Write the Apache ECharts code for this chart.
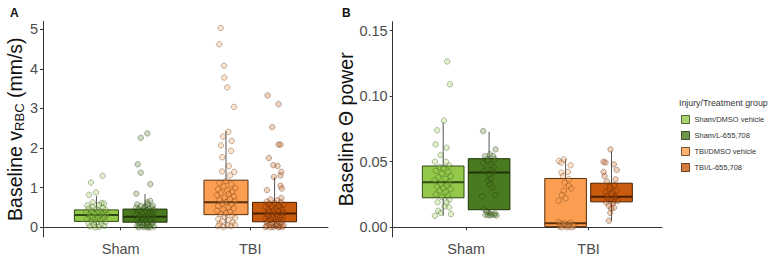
<!DOCTYPE html>
<html>
<head>
<meta charset="utf-8">
<script src="https://cdn.jsdelivr.net/npm/echarts@6/dist/echarts.min.js"></script>
<style>
  html, body { margin: 0; padding: 0; background: #fff; }
  #main { width: 772px; height: 256px; }
</style>
</head>
<body>
<div id="main"></div>
<script>
const categories = ['Sham', 'TBI'];
const groups = ['Sham/DMSO vehicle', 'Sham/L-655,708', 'TBI/DMSO vehicle', 'TBI/L-655,708'];
// where each group sits on the x scale (category 1 / 2, dodged)
const groupPos = [0.8125, 1.1875, 1.8125, 2.1875];
const fills = ['#93c84a', '#4a7a1f', '#fb9e52', '#c95b0e'];
const edges = ['#2f4a12', '#1f3309', '#5a2f0a', '#4a1f02'];

const ticksA = [0, 1, 2, 3, 4, 5];
const ticksB = [0, 0.05, 0.10, 0.15];

// box stats: [low whisker, q1, median, q3, high whisker]
const boxA = [
  [0.00, 0.15, 0.31, 0.44, 0.79],
  [0.00, 0.13, 0.27, 0.46, 0.84],
  [0.00, 0.32, 0.63, 1.19, 2.43],
  [0.00, 0.14, 0.35, 0.63, 1.26]
];
const boxB = [
  [0.0088, 0.0225, 0.0344, 0.0467, 0.0800],
  [0.0096, 0.0134, 0.0417, 0.0523, 0.0728],
  [0.0000, 0.0005, 0.0030, 0.0372, 0.0520],
  [0.0050, 0.0194, 0.0232, 0.0336, 0.0580]
];

// jittered points: [offset from group position, value]
const ptsA_shamDmso = [[-0.042,1.13],[0.048,1.30],[-0.058,0.82],[-0.004,0.88],[-0.029,0.63],[0.04,0.61],[0.058,0.60],
  [-0.07,0.55],[0.02,0.56],[-0.03,0.52],[0.05,0.50],[-0.06,0.47],[0.0,0.46],[0.07,0.44],[-0.04,0.42],[0.03,0.41],
  [-0.08,0.39],[0.01,0.38],[0.06,0.37],[-0.02,0.35],[0.04,0.34],[-0.06,0.33],[0.08,0.32],[-0.01,0.31],[0.03,0.29],
  [-0.05,0.28],[0.06,0.27],[-0.03,0.25],[0.01,0.24],[0.05,0.22],[-0.07,0.21],[-0.01,0.19],[0.03,0.17],[-0.04,0.15],
  [0.07,0.14],[0.0,0.12],[-0.06,0.10],[0.04,0.08],[-0.02,0.06],[0.06,0.04],[-0.05,0.02],[0.02,0.01],[-0.01,0.00]];
const ptsA_shamL = [[0.018,2.37],[-0.033,2.26],[-0.056,1.59],[-0.033,1.38],[0.041,1.09],[-0.067,0.85],[0.039,0.67],[0.018,0.63],
  [-0.06,0.58],[0.02,0.57],[0.06,0.55],[-0.03,0.54],[0.0,0.52],[0.05,0.50],[-0.07,0.49],[-0.01,0.48],[0.03,0.47],
  [-0.05,0.45],[0.07,0.44],[0.01,0.43],[-0.03,0.41],[0.04,0.40],[-0.06,0.38],[0.0,0.37],[0.06,0.36],[-0.02,0.34],
  [0.03,0.33],[-0.07,0.32],[0.05,0.30],[-0.04,0.29],[0.01,0.28],[-0.01,0.26],[0.07,0.25],[-0.05,0.24],[0.03,0.22],
  [-0.02,0.21],[0.05,0.19],[-0.06,0.18],[0.0,0.17],[0.04,0.15],[-0.03,0.14],[0.06,0.12],[-0.05,0.11],[0.02,0.10],
  [-0.01,0.08],[0.05,0.07],[-0.04,0.06],[0.01,0.05],[-0.06,0.04],[0.03,0.03],[0.07,0.02],[-0.02,0.02],[0.0,0.01],
  [-0.05,0.00],[0.04,0.00],[0.02,0.00]];
const ptsA_tbiDmso = [[-0.041,5.03],[-0.052,4.62],[-0.015,4.08],[-0.013,3.78],[0.01,3.53],[0.062,3.04],[0.018,2.41],
  [-0.023,2.29],[0.044,2.18],[-0.039,2.07],[0.039,1.93],[-0.029,1.77],[0.023,1.55],[-0.031,1.41],[0.064,1.40],[0.031,1.31],
  [0.0,1.17],[-0.05,1.12],[0.04,1.08],[-0.02,1.03],[0.07,0.99],[-0.06,0.96],[0.01,0.93],[0.05,0.90],[-0.04,0.87],
  [0.02,0.84],[-0.07,0.81],[0.06,0.78],[-0.01,0.75],[0.03,0.72],[-0.05,0.69],[0.07,0.66],[0.0,0.63],[-0.03,0.60],
  [0.04,0.57],[-0.06,0.54],[0.02,0.51],[0.06,0.48],[-0.02,0.45],[-0.07,0.42],[0.03,0.39],[0.0,0.36],[-0.04,0.33],
  [0.05,0.30],[-0.01,0.27],[0.07,0.24],[-0.06,0.21],[0.02,0.18],[-0.03,0.15],[0.05,0.12],[-0.05,0.08],[0.01,0.05],
  [0.04,0.03],[-0.02,0.01],[-0.06,0.03],[0.07,0.06]];
const ptsA_tbiL = [[-0.054,3.33],[0.031,3.11],[-0.018,2.53],[0.031,2.09],[0.046,2.09],[-0.044,1.75],[-0.01,1.57],
  [0.023,1.55],[0.052,1.40],[0.046,1.31],[-0.005,1.27],[0.046,1.05],[-0.059,0.94],[0.056,0.98],[0.052,0.74],
  [-0.03,0.70],[0.02,0.68],[-0.06,0.65],[0.05,0.63],[0.0,0.61],[-0.04,0.59],[0.07,0.57],[0.03,0.55],[-0.02,0.53],
  [-0.07,0.51],[0.04,0.50],[0.01,0.48],[-0.05,0.46],[0.06,0.44],[-0.01,0.42],[0.03,0.41],[-0.04,0.39],[0.07,0.37],
  [0.0,0.36],[-0.06,0.34],[0.05,0.33],[-0.02,0.31],[0.02,0.30],[-0.05,0.28],[0.06,0.27],[-0.01,0.25],[0.04,0.24],
  [-0.07,0.22],[0.01,0.21],[-0.03,0.19],[0.06,0.18],[-0.05,0.16],[0.03,0.15],[0.0,0.13],[-0.06,0.12],[0.05,0.10],
  [-0.02,0.09],[0.02,0.08],[-0.04,0.06],[0.07,0.05],[0.01,0.04],[-0.06,0.03],[0.04,0.02],[-0.01,0.01],[-0.03,0.00],
  [0.03,0.00],[0.06,0.01],[-0.07,0.01]];

const ptsB_shamDmso = [[0.033,0.1264],[0.055,0.109],[0.006,0.0814],[-0.049,0.074],[-0.062,0.0632],[0.028,0.0607],
  [-0.021,0.0551],[-0.068,0.050],[0.022,0.050],[0.05,0.047],[-0.03,0.046],[0.0,0.045],[-0.06,0.043],[0.04,0.042],
  [-0.01,0.041],[0.06,0.039],[-0.04,0.038],[0.02,0.037],[-0.07,0.036],[0.05,0.034],[-0.02,0.033],[0.03,0.032],
  [-0.05,0.031],[0.0,0.030],[0.06,0.029],[-0.03,0.028],[0.02,0.027],[-0.06,0.025],[0.04,0.024],[-0.01,0.023],
  [0.05,0.021],[-0.046,0.019],[0.028,0.019],[0.049,0.0152],[-0.041,0.0126],[0.063,0.0101],[-0.068,0.0088],
  [0.01,0.016],[-0.02,0.011]];
const ptsB_shamL = [[-0.048,0.0733],[0.053,0.0594],[-0.034,0.0543],[0.007,0.0556],[0.033,0.0543],[-0.02,0.0518],
  [-0.048,0.049],[0.02,0.0475],[-0.02,0.0442],[0.033,0.0417],[-0.007,0.0354],[0.007,0.0329],[0.025,0.0303],
  [-0.056,0.0235],[0.053,0.0245],[0.045,0.052],[-0.01,0.051],[0.04,0.046],[-0.04,0.043],[0.0,0.040],[0.015,0.037],
  [-0.04,0.014],[-0.02,0.012],[0.0,0.011],[0.02,0.010],[0.04,0.0095],[0.06,0.009],[-0.03,0.0095],[0.01,0.009],
  [0.05,0.0105],[-0.01,0.0093]];
const ptsB_tbiDmso = [[-0.055,0.0505],[-0.014,0.0518],[-0.035,0.0493],[0.041,0.0473],[-0.035,0.0417],[0.019,0.0422],
  [-0.022,0.039],[0.027,0.0366],[-0.008,0.0341],[0.027,0.0316],[0.046,0.0296],[-0.014,0.0278],[-0.03,0.0245],
  [0.0,0.0222],[-0.057,0.0202],[-0.06,0.004],[-0.04,0.003],[-0.02,0.002],[0.0,0.001],[0.02,0.0025],[0.04,0.0035],
  [0.06,0.002],[-0.05,0.0005],[-0.03,0.0],[0.01,0.0],[0.03,0.0005],[0.05,0.0],[-0.01,0.003],[0.07,0.001]];
const ptsB_tbiL = [[-0.008,0.0594],[-0.065,0.050],[-0.049,0.0493],[0.019,0.048],[0.043,0.0437],[-0.065,0.0422],
  [-0.057,0.039],[0.033,0.0366],[-0.038,0.0349],[-0.016,0.0296],[0.011,0.0266],[-0.038,0.024],[-0.002,0.0215],
  [0.024,0.0202],[-0.022,0.0164],[-0.002,0.0144],[-0.022,0.005],[0.02,0.032],[-0.01,0.031],[0.04,0.028],
  [-0.05,0.027],[0.0,0.025],[0.03,0.023],[-0.03,0.022],[0.05,0.020],[-0.045,0.019],[0.01,0.018],[-0.01,0.011],
  [0.02,0.015]];

const ptsA = [ptsA_shamDmso, ptsA_shamL, ptsA_tbiDmso, ptsA_tbiL];
const ptsB = [ptsB_shamDmso, ptsB_shamL, ptsB_tbiDmso, ptsB_tbiL];

const BOX_W = 0.34;
const axisColor = '#333';
const labelColor = '#4d4d4d';
const font = 'Liberation Sans, Arial, sans-serif';

function renderBox(params, api) {
  const x = api.value(0);
  const i = api.value(6);
  const lo = api.coord([x, api.value(1)]);
  const q1 = api.coord([x, api.value(2)]);
  const md = api.coord([x, api.value(3)]);
  const q3 = api.coord([x, api.value(4)]);
  const hi = api.coord([x, api.value(5)]);
  const w = api.size([BOX_W, 0])[0];
  return {
    type: 'group',
    children: [
      { type: 'line', shape: { x1: lo[0], y1: lo[1], x2: q1[0], y2: q1[1] }, style: { stroke: '#555', lineWidth: 1 } },
      { type: 'line', shape: { x1: q3[0], y1: q3[1], x2: hi[0], y2: hi[1] }, style: { stroke: '#555', lineWidth: 1 } },
      { type: 'rect', shape: { x: q3[0] - w / 2, y: q3[1], width: w, height: q1[1] - q3[1] },
        style: { fill: fills[i], stroke: edges[i], lineWidth: 1 } },
      { type: 'line', shape: { x1: md[0] - w / 2, y1: md[1], x2: md[0] + w / 2, y2: md[1] },
        style: { stroke: edges[i], lineWidth: 2 } }
    ]
  };
}

function boxData(stats) {
  return stats.map((s, i) => [groupPos[i]].concat(s).concat([i]));
}

function hexA(hex, a) {
  const n = parseInt(hex.slice(1), 16);
  return 'rgba(' + (n >> 16) + ',' + ((n >> 8) & 255) + ',' + (n & 255) + ',' + a + ')';
}

function xAxisOpt(idx) {
  return {
    type: 'value', gridIndex: idx, min: 0.4, max: 2.6,
    axisLine: { show: true, lineStyle: { color: axisColor, width: 1 } },
    axisTick: { show: true, length: 3, customValues: [1, 2], lineStyle: { color: axisColor } },
    axisLabel: { customValues: [1, 2], formatter: v => categories[Math.round(v) - 1],
      color: labelColor, fontSize: 14.5, fontFamily: font, margin: 4 },
    splitLine: { show: false }
  };
}

function yAxisOpt(idx, min, max, ticks, fmt, name, gap, rich) {
  return {
    type: 'value', gridIndex: idx, min: min, max: max,
    axisLine: { show: true, lineStyle: { color: axisColor, width: 1 } },
    axisTick: { show: true, length: 3, customValues: ticks, lineStyle: { color: axisColor } },
    axisLabel: { customValues: ticks, formatter: fmt, color: labelColor, fontSize: 14.5, fontFamily: font, margin: 5 },
    splitLine: { show: false },
    name: name, nameLocation: 'middle', nameGap: gap, nameRotate: 90,
    nameTextStyle: { fontSize: 19.5, color: '#111', fontFamily: font, rich: rich }
  };
}

const series = [];
[boxA, boxB].forEach((stats, p) => {
  series.push({
    type: 'custom', xAxisIndex: p, yAxisIndex: p, renderItem: renderBox, clip: false,
    encode: { x: 0, y: [1, 2, 3, 4, 5] }, data: boxData(stats), z: 2, silent: true
  });
});
[ptsA, ptsB].forEach((sets, p) => {
  sets.forEach((pts, i) => {
    series.push({
      name: groups[i], type: 'scatter', xAxisIndex: p, yAxisIndex: p, z: 5, silent: true,
      symbol: 'circle', symbolSize: 5.5,
      itemStyle: { color: hexA(fills[i], 0.35), borderColor: hexA(edges[i], 0.42), borderWidth: 1 },
      data: pts.map(d => [groupPos[i] + d[0], d[1]])
    });
  });
});

const chart = echarts.init(document.getElementById('main'), null, { renderer: 'svg' });
chart.setOption({
  animation: false,
  backgroundColor: '#fff',
  title: [
    { text: 'A', left: 5, top: 2, textStyle: { fontSize: 12, fontWeight: 'bold', color: '#111', fontFamily: font } },
    { text: 'B', left: 337, top: 2, textStyle: { fontSize: 12, fontWeight: 'bold', color: '#111', fontFamily: font } },
    { text: 'Injury/Treatment group', left: 674, top: 93, textStyle: { fontSize: 8.8, fontWeight: 'normal', color: '#333', fontFamily: font } }
  ],
  grid: [
    { left: 43, top: 21.3, width: 285, height: 216.7 },
    { left: 392.7, top: 21.6, width: 269.3, height: 216.4 }
  ],
  xAxis: [xAxisOpt(0), xAxisOpt(1)],
  yAxis: [
    yAxisOpt(0, -0.244, 5.2, ticksA, v => String(v),
      'Baseline v{sub|RBC} (mm/s)', 17, { sub: { fontSize: 13, verticalAlign: 'bottom', padding: [9, 0, 0, 0], color: '#111', fontFamily: font } }),
    yAxisOpt(1, -0.0074, 0.1568, ticksB, v => v.toFixed(2), 'Baseline \u0398 power', 37, {})
  ],
  legend: {
    orient: 'vertical', left: 676, top: 110, itemWidth: 8, itemHeight: 8, itemGap: 7,
    selectedMode: false,
    textStyle: { fontSize: 7.5, color: '#333', fontFamily: font },
    data: groups.map((g, i) => ({ name: g, icon: 'rect', itemStyle: { color: fills[i], borderColor: edges[i], borderWidth: 1 } }))
  },
  series: series
});
</script>
</body>
</html>
